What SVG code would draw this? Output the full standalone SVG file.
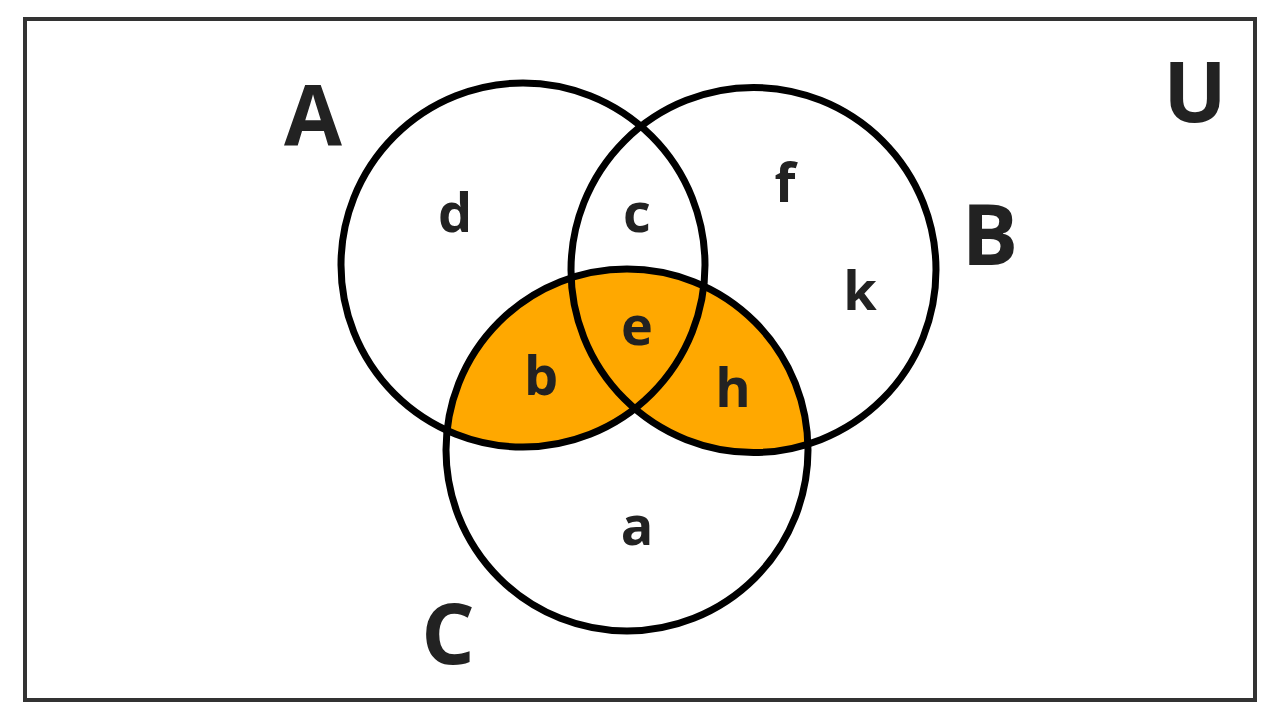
<svg xmlns="http://www.w3.org/2000/svg" width="1280" height="720" viewBox="0 0 1280 720">
<style>
.c{fill:none;stroke:#000;stroke-width:7}
.big{font-family:"Open Sans","Liberation Sans",sans-serif;font-weight:bold;font-size:84px;fill:#222;text-anchor:middle}
.sm{font-family:"Open Sans","Liberation Sans",sans-serif;font-weight:bold;font-size:54px;fill:#222;text-anchor:middle}
</style>
<defs><clipPath id="cc"><circle cx="627" cy="450" r="181"/></clipPath></defs>
<rect x="0" y="0" width="1280" height="720" fill="#fff"/>
<rect x="25" y="19" width="1230" height="681" fill="none" stroke="#333" stroke-width="4"/>
<g clip-path="url(#cc)" fill="#FFA800"><circle cx="523" cy="265" r="182"/><circle cx="753.5" cy="270" r="182.5"/></g>
<g id="A"><circle class="c" cx="523" cy="265" r="182"/><text class="big" x="313" y="145">A</text></g>
<g id="B"><circle class="c" cx="753.5" cy="270" r="182.5"/><text class="big" x="990" y="265">B</text></g>
<g id="C"><circle class="c" cx="627" cy="450" r="181"/><text class="big" x="448" y="664">C</text></g>
<text class="big" x="1195" y="122">U</text>
<g class="sm">
<text x="455" y="232">d</text><text x="637" y="232">c</text><text x="785" y="202">f</text><text x="860" y="310">k</text>
<text x="637" y="345">e</text><text x="541" y="395">b</text><text x="733" y="407">h</text><text x="637" y="545">a</text>
</g>
</svg>
